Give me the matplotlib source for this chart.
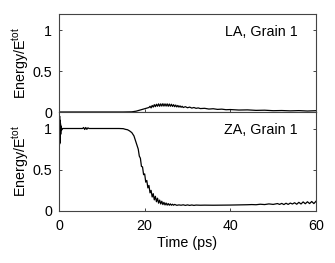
import matplotlib
matplotlib.use("Agg")
import matplotlib.pyplot as plt

plt.rcParams['font.family'] = ['Liberation Sans', 'DejaVu Sans']
plt.rcParams['mathtext.fontset'] = 'custom'
plt.rcParams['mathtext.rm'] = 'Liberation Sans'
plt.rcParams['mathtext.it'] = 'Liberation Sans:italic'

# ---- data ----
la_t = [0, 5, 10, 15, 17, 18, 19, 20, 21,
        21.25, 21.5, 21.75, 22, 22.25, 22.5, 22.75, 23, 23.25, 23.5, 23.75,
        24, 24.25, 24.5, 24.75, 25, 25.25, 25.5, 25.75, 26, 26.25, 26.5, 26.75,
        27, 27.25, 27.5, 27.75, 28, 28.25, 28.5, 28.75, 29, 29.5, 30, 30.5,
        31, 31.5, 32, 32.5, 33, 34, 35, 36, 37, 38, 39, 40, 42, 44, 46, 48,
        50, 52, 54, 56, 58, 60]
la_e = [0, 0, 0, 0, 0.002, 0.01, 0.025, 0.04, 0.055,
        0.07, 0.05, 0.08, 0.06, 0.09, 0.065, 0.095, 0.07, 0.1, 0.07, 0.1,
        0.072, 0.102, 0.072, 0.1, 0.072, 0.1, 0.07, 0.098, 0.07, 0.095, 0.068, 0.09,
        0.065, 0.085, 0.062, 0.08, 0.06, 0.075, 0.058, 0.07, 0.055, 0.065, 0.052, 0.06,
        0.048, 0.055, 0.045, 0.05, 0.042, 0.045, 0.036, 0.04, 0.032, 0.035, 0.028, 0.03,
        0.024, 0.026, 0.02, 0.022, 0.016, 0.018, 0.014, 0.017, 0.012, 0.016]

za_t = [0, 0.05, 0.1, 0.15, 0.2, 0.25, 0.3, 0.35, 0.4, 0.5, 0.6, 0.8, 1,
        3, 5, 5.5, 5.75, 6, 6.25, 6.5, 6.75, 7, 10, 14, 15, 15.5, 16, 16.5,
        17, 17.5, 18,
        18.5, 18.75, 19, 19.25, 19.5, 19.75, 20, 20.25, 20.5, 20.75, 21, 21.25,
        21.5, 21.75, 22, 22.25, 22.5, 22.75, 23, 23.25, 23.5, 23.75, 24, 24.25,
        24.5, 24.75, 25, 25.25, 25.5, 25.75, 26, 26.25, 26.5, 26.75, 27, 27.5,
        28, 28.5, 29, 29.5, 30, 30.5, 31, 31.5, 32, 33, 34, 36, 38, 40, 42, 44,
        45, 46, 47, 48, 49, 50, 51, 51.5, 52, 52.5, 53, 53.5, 54, 54.5, 55,
        55.5, 56, 56.5, 57, 57.5, 58, 58.5, 59, 59.5, 60]
za_e = [1.0, 1.18, 0.8, 1.15, 0.82, 1.1, 0.88, 1.06, 0.93, 1.03, 0.98, 1.0, 1.0,
        1.0, 1.0, 1.0, 1.012, 0.988, 1.012, 0.99, 1.008, 1.0, 1.0, 1.0, 0.998, 0.99, 0.985, 0.97,
        0.95, 0.91, 0.83,
        0.75, 0.665, 0.64, 0.54, 0.535, 0.44, 0.45, 0.35, 0.37, 0.28, 0.31, 0.22,
        0.25, 0.17, 0.21, 0.135, 0.178, 0.112, 0.155, 0.095, 0.132, 0.085, 0.118, 0.078,
        0.105, 0.073, 0.097, 0.071, 0.09, 0.07, 0.086, 0.07, 0.082, 0.07, 0.08, 0.069,
        0.074, 0.07, 0.075, 0.068, 0.074, 0.068, 0.073, 0.068, 0.072, 0.07, 0.071, 0.07, 0.071, 0.072, 0.074, 0.076,
        0.078, 0.076, 0.082, 0.078, 0.086, 0.08, 0.09, 0.08, 0.092, 0.078, 0.094, 0.08, 0.096, 0.085, 0.1,
        0.082, 0.105, 0.085, 0.11, 0.088, 0.112, 0.09, 0.115, 0.09, 0.118]

panel_labels = ["LA, Grain 1", "ZA, Grain 1"]
x_ticks = [0, 20, 40, 60]
y_ticks = [0, 0.5, 1]
y_tick_labels = ["0", "0.5", "1"]
x_label = "Time (ps)"
y_label = r"Energy/E$^{\mathrm{tot}}$"

# ---- figure ----
W, H = 335, 263
fig = plt.figure(figsize=(W / 100, H / 100), dpi=100)
L, R = 59, 316
ax_top = fig.add_axes([L / W, (H - 112) / H, (R - L) / W, 98 / H])
ax_bot = fig.add_axes([L / W, (H - 211) / H, (R - L) / W, 99 / H])

fs = 10.3
spine_c = '#444444'
for ax, t, e, lab in [(ax_top, la_t, la_e, panel_labels[0]),
                      (ax_bot, za_t, za_e, panel_labels[1])]:
    ax.plot(t, e, color='black', lw=0.9)
    ax.set_xlim(0, 60)
    ax.set_ylim(0, 1.2)
    ax.set_xticks(x_ticks)
    ax.set_yticks(y_ticks)
    ax.set_yticklabels(y_tick_labels)
    ax.tick_params(direction='in', length=2.5, width=0.7, color=spine_c,
                   labelsize=fs, left=True, right=True, top=False, bottom=True,
                   pad=5)
    for s in ax.spines.values():
        s.set_color(spine_c)
        s.set_linewidth(0.8)
    ax.set_ylabel(y_label, fontsize=fs)
    ax.yaxis.set_label_coords(-0.11, 0.5)
    ax.text(0.93, 0.82, lab, transform=ax.transAxes, ha='right', va='center',
            fontsize=fs)

ax_top.tick_params(labelbottom=False)
ax_bot.tick_params(axis='x', pad=6)
ax_bot.set_xticklabels([str(v) for v in x_ticks])
ax_bot.set_xlabel(x_label, fontsize=fs, labelpad=2)

fig.savefig("out.png", dpi=100)
